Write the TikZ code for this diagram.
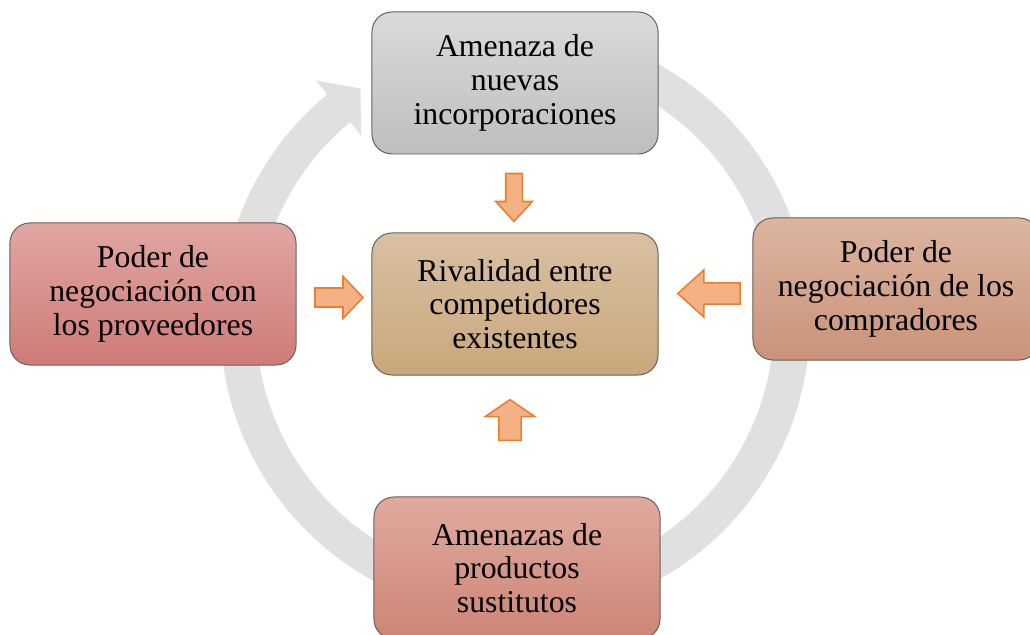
\documentclass[tikz,border=0pt]{standalone}
\usepackage{fontspec}
\setmainfont{Liberation Serif}
\usetikzlibrary{calc}

\definecolor{borde}{RGB}{105,95,90}
\definecolor{gris}{RGB}{224,224,224}
\definecolor{naranja}{RGB}{237,125,49}
\definecolor{naranjaclaro}{RGB}{244,177,131}

\begin{document}
\begin{tikzpicture}[x=0.025cm,y=0.025cm,
  caja/.style={draw=borde, line width=0.7pt, rounded corners=0.5cm, minimum width=7.15cm, minimum height=3.55cm, align=center, inner sep=0pt, font=\fontsize{22.6}{24}\selectfont},
  flecha/.style={draw=naranja, fill=naranjaclaro, line width=1.1pt},
  fuerza/.pic={\draw[flecha] (-24,-9.5) -- (4,-9.5) -- (4,-21) -- (24,0) -- (4,21) -- (4,9.5) -- (-24,9.5) -- cycle;}]
\useasboundingbox (0,0) rectangle (1030,635);
%\draw[help lines,step=50](0,0)grid(1030,635);
% circular arrow behind the boxes
\begin{scope}[shift={(515,313)}]
\fill[gris] (100:295) arc [start angle=100, end angle=-230.5, radius=295]--(129.5:313)--(123.5:280)--(129.5:242)--(-230.5:259) arc [start angle=-230.5, end angle=100, radius=259]--cycle;
\end{scope}
% the five forces
\node[caja, top color={rgb,255:red,218;green,218;blue,218}, bottom color={rgb,255:red,190;green,190;blue,190}] (amenaza) at (515,552) {Amenaza de\\nuevas\\incorporaciones};
\node[caja, top color={rgb,255:red,217;green,192;blue,162}, bottom color={rgb,255:red,201;green,167;blue,124}] (rivalidad) at (515,331) {Rivalidad entre\\competidores\\existentes};
\node[caja, top color={rgb,255:red,224;green,166;blue,163}, bottom color={rgb,255:red,207;green,123;blue,120}] (proveedores) at (153,341) {Poder de\\negociación con\\los proveedores};
\node[caja, top color={rgb,255:red,221;green,181;blue,160}, bottom color={rgb,255:red,201;green,147;blue,122}] (compradores) at (896,346) {Poder de\\negociación de los\\compradores};
\node[caja, top color={rgb,255:red,223;green,170;blue,158}, bottom color={rgb,255:red,205;green,133;blue,118}] (sustitutos) at (517,67) {Amenazas de\\productos\\sustitutos};
% block arrows towards the centre
\pic[rotate=-90, yscale=0.87] at (514,437.5) {fuerza};
\pic at (339,337.5) {fuerza};
\pic[rotate=180, xscale=1.3, yscale=1.12] at (709,341.5) {fuerza};
\pic[rotate=90, xscale=0.85, yscale=1.18] at (510,215) {fuerza};
\end{tikzpicture}
\end{document}
